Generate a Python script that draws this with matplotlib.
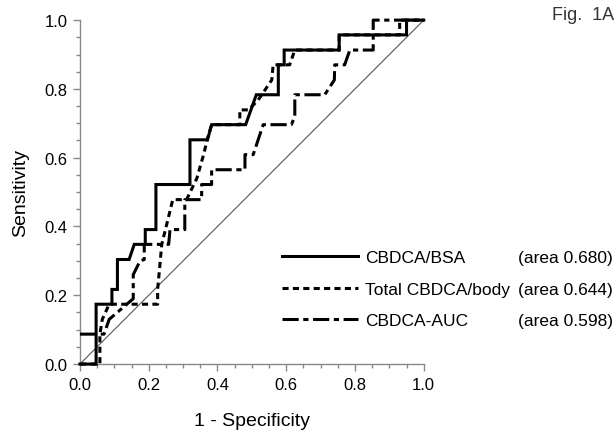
import numpy as np
import matplotlib
matplotlib.use('Agg')
import matplotlib.pyplot as plt
from matplotlib.ticker import MultipleLocator
from matplotlib.lines import Line2D

plt.rcParams['font.family'] = ['Liberation Sans', 'DejaVu Sans']

# ROC curves (1 - specificity, sensitivity)
bsa_fpr = [0, 0.047, 0.047, 0.093, 0.093, 0.109, 0.109, 0.143, 0.158, 0.19, 0.19, 0.221, 0.221,
           0.32, 0.32, 0.371, 0.383, 0.482, 0.513, 0.577, 0.577, 0.594, 0.594, 0.754, 0.754,
           0.95, 0.95, 1.0]
bsa_tpr = [0, 0, 0.174, 0.174, 0.217, 0.217, 0.304, 0.304, 0.348, 0.348, 0.391, 0.391, 0.522,
           0.522, 0.652, 0.652, 0.696, 0.696, 0.783, 0.783, 0.870, 0.870, 0.913, 0.913, 0.957,
           0.957, 1.0, 1.0]

body_fpr = [0, 0.058, 0.058, 0.065, 0.085, 0.226, 0.226, 0.238, 0.27, 0.31, 0.34, 0.36, 0.37,
            0.383, 0.465, 0.465, 0.49, 0.518, 0.558, 0.562, 0.61, 0.625, 0.754, 0.754, 0.93,
            0.93, 1.0]
body_tpr = [0, 0, 0.087, 0.13, 0.174, 0.174, 0.217, 0.348, 0.478, 0.478, 0.54, 0.61, 0.652,
            0.696, 0.696, 0.739, 0.739, 0.767, 0.826, 0.870, 0.870, 0.913, 0.913, 0.957, 0.957,
            1.0, 1.0]

auc_fpr = [0, 0.07, 0.085, 0.12, 0.155, 0.155, 0.175, 0.187, 0.187, 0.258, 0.262, 0.305,
           0.305, 0.354, 0.354, 0.383, 0.383, 0.48, 0.48, 0.504, 0.533, 0.615, 0.625, 0.625,
           0.712, 0.74, 0.741, 0.77, 0.785, 0.853, 0.853, 1.0]
auc_tpr = [0.087, 0.087, 0.13, 0.16, 0.19, 0.26, 0.30, 0.304, 0.348, 0.348, 0.391, 0.391,
           0.478, 0.478, 0.522, 0.522, 0.565, 0.565, 0.609, 0.609, 0.696, 0.696, 0.72, 0.783,
           0.783, 0.826, 0.870, 0.870, 0.913, 0.913, 1.0, 1.0]

names = ['CBDCA/BSA', 'Total CBDCA/body', 'CBDCA-AUC']
areas = [0.680, 0.644, 0.598]

fig = plt.figure(figsize=(6.15, 4.31), dpi=100)
ax = fig.add_axes([0.130, 0.153, 0.559, 0.798])

# chance line
ax.plot([0, 1], [0, 1], color='#555555', lw=0.8, zorder=1)

styles = ['-', (0, (2.0, 1.4)), (0, (5.3, 1.5, 1.7, 1.5))]
curves = [(bsa_fpr, bsa_tpr), (body_fpr, body_tpr), (auc_fpr, auc_tpr)]
handles = []
for (fx, ty), ls in zip(curves, styles):
    h, = ax.plot(fx, ty, color='black', lw=2.2, linestyle=ls, clip_on=False,
                 solid_joinstyle='miter', dash_capstyle='butt', zorder=3)
    handles.append(h)

ax.set_xlim(0, 1)
ax.set_ylim(0, 1)
for s in ['top', 'right']:
    ax.spines[s].set_visible(False)
for s in ['left', 'bottom']:
    ax.spines[s].set_color('#888888')
    ax.spines[s].set_linewidth(1.0)

ax.xaxis.set_major_locator(MultipleLocator(0.2))
ax.yaxis.set_major_locator(MultipleLocator(0.2))
ax.xaxis.set_minor_locator(MultipleLocator(0.05))
ax.yaxis.set_minor_locator(MultipleLocator(0.05))
ax.xaxis.set_major_formatter(plt.FormatStrFormatter('%.1f'))
ax.yaxis.set_major_formatter(plt.FormatStrFormatter('%.1f'))
ax.tick_params(which='major', length=5, width=1, color='#888888', labelsize=12, pad=4)
ax.tick_params(which='minor', length=3, width=1, color='#888888')

ax.set_xlabel('1 - Specificity', fontsize=14, labelpad=15)
ax.set_ylabel('Sensitivity', fontsize=14, labelpad=11)

leg_top = 1 - 251 / 431
leg1 = fig.legend(handles, names, loc='upper left', bbox_to_anchor=(282 / 615, leg_top),
                  frameon=False, fontsize=12.5, handlelength=4.4, handletextpad=0.4,
                  labelspacing=0.95, borderpad=0, borderaxespad=0)
blank = [Line2D([], [], linestyle='none') for _ in areas]
leg2 = fig.legend(blank, ['(area %.3f)' % a for a in areas], loc='upper left',
                  bbox_to_anchor=(518 / 615, leg_top), frameon=False, fontsize=12.5,
                  handlelength=0, handletextpad=0, labelspacing=0.95, borderpad=0,
                  borderaxespad=0)

fig.text(552 / 615, 1 - 15 / 431, 'Fig.  1A', fontsize=13, color='#333333',
         ha='left', va='center')

fig.savefig('out.png', dpi=100)
